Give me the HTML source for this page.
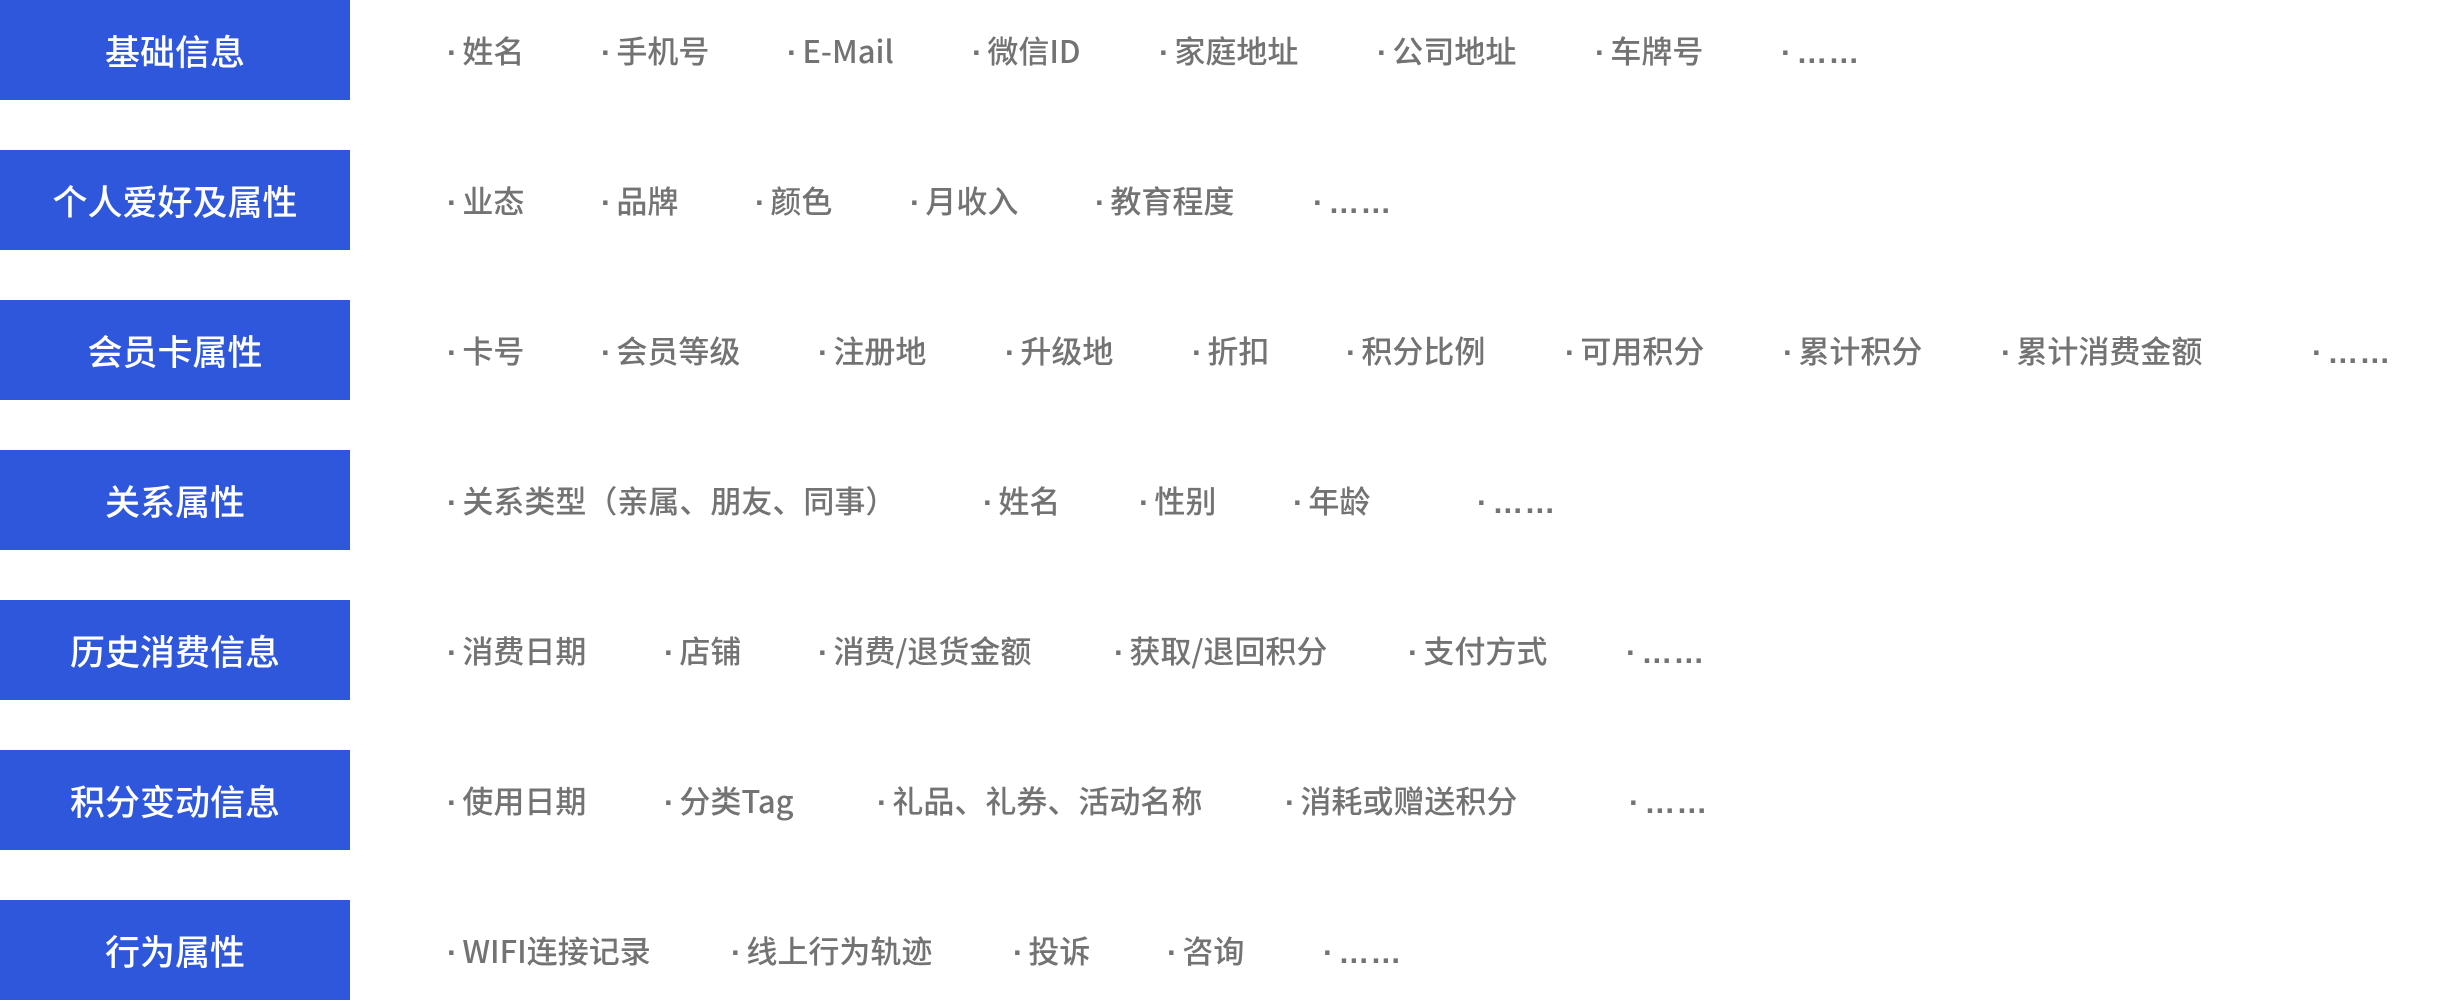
<!DOCTYPE html>
<html><head><meta charset="utf-8"><style>
body{margin:0;width:2440px;height:1000px;background:#fff;position:relative;overflow:hidden;font-family:"Liberation Sans","Noto Sans CJK SC",sans-serif;}
.b{position:absolute;left:0;width:350px;height:100px;background:#2f57db;color:#fff;font-size:35px;font-weight:500;display:flex;align-items:center;justify-content:center;font-family:"Noto Sans CJK SC",sans-serif;}
.i{position:absolute;font-size:31px;color:#737373;font-weight:500;line-height:100px;height:100px;white-space:nowrap;font-family:"Noto Sans CJK SC",sans-serif;}
.i span{font-family:"Liberation Sans",sans-serif;font-weight:700;margin-right:5px;}
.i span.e{margin-right:0;letter-spacing:1px;}
</style></head><body>
<div class="b" style="top:0">基础信息</div>
<div class="b" style="top:150px">个人爱好及属性</div>
<div class="b" style="top:300px">会员卡属性</div>
<div class="b" style="top:450px">关系属性</div>
<div class="b" style="top:600px">历史消费信息</div>
<div class="b" style="top:750px">积分变动信息</div>
<div class="b" style="top:900px">行为属性</div>

<div class="i" style="top:0;left:447px"><span>·</span>姓名</div>
<div class="i" style="top:0;left:601px"><span>·</span>手机号</div>
<div class="i" style="top:0;left:787px"><span>·</span>E-Mail</div>
<div class="i" style="top:0;left:972px"><span>·</span>微信ID</div>
<div class="i" style="top:0;left:1159px"><span>·</span>家庭地址</div>
<div class="i" style="top:0;left:1377px"><span>·</span>公司地址</div>
<div class="i" style="top:0;left:1595px"><span>·</span>车牌号</div>
<div class="i" style="top:0;left:1781px"><span>·</span><span class="e">……</span></div>

<div class="i" style="top:150px;left:447px"><span>·</span>业态</div>
<div class="i" style="top:150px;left:601px"><span>·</span>品牌</div>
<div class="i" style="top:150px;left:755px"><span>·</span>颜色</div>
<div class="i" style="top:150px;left:910px"><span>·</span>月收入</div>
<div class="i" style="top:150px;left:1095px"><span>·</span>教育程度</div>
<div class="i" style="top:150px;left:1313px"><span>·</span><span class="e">……</span></div>

<div class="i" style="top:300px;left:447px"><span>·</span>卡号</div>
<div class="i" style="top:300px;left:601px"><span>·</span>会员等级</div>
<div class="i" style="top:300px;left:818px"><span>·</span>注册地</div>
<div class="i" style="top:300px;left:1005px"><span>·</span>升级地</div>
<div class="i" style="top:300px;left:1192px"><span>·</span>折扣</div>
<div class="i" style="top:300px;left:1346px"><span>·</span>积分比例</div>
<div class="i" style="top:300px;left:1565px"><span>·</span>可用积分</div>
<div class="i" style="top:300px;left:1783px"><span>·</span>累计积分</div>
<div class="i" style="top:300px;left:2001px"><span>·</span>累计消费金额</div>
<div class="i" style="top:300px;left:2312px"><span>·</span><span class="e">……</span></div>

<div class="i" style="top:450px;left:447px"><span>·</span>关系类型（亲属、朋友、同事）</div>
<div class="i" style="top:450px;left:983px"><span>·</span>姓名</div>
<div class="i" style="top:450px;left:1139px"><span>·</span>性别</div>
<div class="i" style="top:450px;left:1293px"><span>·</span>年龄</div>
<div class="i" style="top:450px;left:1477px"><span>·</span><span class="e">……</span></div>

<div class="i" style="top:600px;left:447px"><span>·</span>消费日期</div>
<div class="i" style="top:600px;left:664px"><span>·</span>店铺</div>
<div class="i" style="top:600px;left:818px"><span>·</span>消费/退货金额</div>
<div class="i" style="top:600px;left:1114px"><span>·</span>获取/退回积分</div>
<div class="i" style="top:600px;left:1408px"><span>·</span>支付方式</div>
<div class="i" style="top:600px;left:1626px"><span>·</span><span class="e">……</span></div>

<div class="i" style="top:750px;left:447px"><span>·</span>使用日期</div>
<div class="i" style="top:750px;left:664px"><span>·</span>分类Tag</div>
<div class="i" style="top:750px;left:877px"><span>·</span>礼品、礼券、活动名称</div>
<div class="i" style="top:750px;left:1285px"><span>·</span>消耗或赠送积分</div>
<div class="i" style="top:750px;left:1629px"><span>·</span><span class="e">……</span></div>

<div class="i" style="top:900px;left:447px"><span>·</span>WIFI连接记录</div>
<div class="i" style="top:900px;left:731px"><span>·</span>线上行为轨迹</div>
<div class="i" style="top:900px;left:1013px"><span>·</span>投诉</div>
<div class="i" style="top:900px;left:1167px"><span>·</span>咨询</div>
<div class="i" style="top:900px;left:1323px"><span>·</span><span class="e">……</span></div>
</body></html>
